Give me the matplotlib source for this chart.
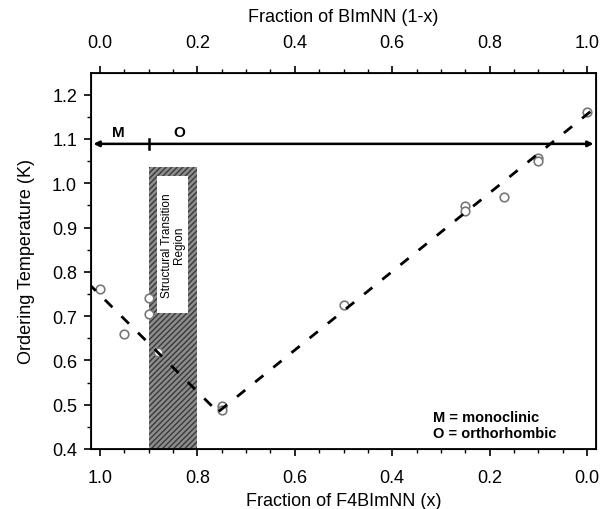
import matplotlib
matplotlib.use("Agg")
import matplotlib.pyplot as plt
from matplotlib.ticker import MultipleLocator
from matplotlib.patches import Rectangle

plt.rcParams['font.family'] = ['Liberation Sans', 'DejaVu Sans']

# Data: F4BImNN fraction x and ordering temperature (K)
x_frac = [1.0, 0.95, 0.90, 0.90, 0.88, 0.75, 0.75, 0.50, 0.25, 0.25, 0.17, 0.10, 0.10, 0.0]
t_order = [0.762, 0.660, 0.740, 0.705, 0.620, 0.497, 0.489, 0.726, 0.948, 0.937, 0.968, 1.057, 1.050, 1.160]

# Guide-line (fit) endpoints
fit1_x = [1.024, 0.762]
fit1_y = [0.774, 0.488]
fit2_x = [0.756, -0.0185]
fit2_y = [0.485, 1.172]

# Structural transition region (in x)
region_x = [0.90, 0.80]
region_top = 1.0375
inner_x = [0.882, 0.819]
inner_y = [0.707, 1.016]

phase_line_y = 1.089
phase_boundary_x = 0.90
xlim = (1.0185, -0.0185)
ylim = (0.4, 1.249)

FS = 13

fig = plt.figure(figsize=(6.04, 5.10), dpi=100)
ax = fig.add_axes([91/604, 1-450/510, (596-91)/604, (450-74)/510])

# hatched region
ax.add_patch(Rectangle((region_x[1], ylim[0]), region_x[0]-region_x[1], region_top-ylim[0],
                       facecolor='#8c8c8c', edgecolor='#3a3a3a', hatch='//////', lw=0, zorder=1))
ax.add_patch(Rectangle((inner_x[1], inner_y[0]), inner_x[0]-inner_x[1], inner_y[1]-inner_y[0],
                       facecolor='white', edgecolor='none', zorder=2))
ax.text((inner_x[0]+inner_x[1])/2, (inner_y[0]+inner_y[1])/2, 'Structural Transition\nRegion',
        rotation=90, ha='center', va='center', fontsize=8.5, zorder=3, linespacing=1.0)

# data points
ax.plot(x_frac, t_order, 'o', ms=6.2, mfc='white', mec='#787878', mew=1.2, zorder=4)

# dashed guide lines
ax.plot(fit1_x, fit1_y, '--', color='black', lw=2.0, dashes=(3.8, 4.6), zorder=5)
ax.plot(fit2_x, fit2_y, '--', color='black', lw=2.0, dashes=(3.8, 4.6), zorder=5)

# phase line with arrows
ax.annotate('', xy=(xlim[0]-0.005, phase_line_y), xytext=(xlim[1]+0.005, phase_line_y),
            arrowprops=dict(arrowstyle='<|-|>', color='black', lw=1.8, mutation_scale=8,
                            shrinkA=0, shrinkB=0), zorder=6)
ax.plot([phase_boundary_x, phase_boundary_x], [phase_line_y-0.012, phase_line_y+0.012],
        color='black', lw=1.8, zorder=6)
ax.text(0.963, 1.116, 'M', fontsize=11, fontweight='bold', ha='center', va='center')
ax.text(0.838, 1.116, 'O', fontsize=11, fontweight='bold', ha='center', va='center')

ax.text(0.316, 0.473, 'M = monoclinic', fontsize=10.5, fontweight='bold', ha='left', va='center')
ax.text(0.316, 0.436, 'O = orthorhombic', fontsize=10.5, fontweight='bold', ha='left', va='center')

ax.set_xlim(*xlim)
ax.set_ylim(*ylim)
ax.xaxis.set_minor_locator(MultipleLocator(0.05))
ax.yaxis.set_major_locator(MultipleLocator(0.1))
ax.yaxis.set_minor_locator(MultipleLocator(0.05))
ax.set_xticks([1.0, 0.8, 0.6, 0.4, 0.2, 0.0])
ax.set_xticklabels(['1.0', '0.8', '0.6', '0.4', '0.2', '0.0'])
ax.tick_params(which='major', direction='out', length=5, width=1.2, labelsize=FS, colors='black')
ax.tick_params(which='minor', direction='out', length=3, width=1.0)
ax.tick_params(axis='x', which='major', pad=9.5)
ax.tick_params(axis='y', which='major', pad=5)
ax.tick_params(axis='y', right=False)
for s in ax.spines.values():
    s.set_linewidth(1.3)

ax.set_xlabel('Fraction of F4BImNN (x)', fontsize=FS, labelpad=4)
ax.set_ylabel('Ordering Temperature (K)', fontsize=FS, labelpad=12)

ax2 = ax.twiny()
ax2.set_xlim(1-xlim[0], 1-xlim[1])
ax2.set_xticks([0.0, 0.2, 0.4, 0.6, 0.8, 1.0])
ax2.set_xticklabels(['0.0', '0.2', '0.4', '0.6', '0.8', '1.0'])
ax2.xaxis.set_minor_locator(MultipleLocator(0.05))
ax2.tick_params(which='major', direction='out', length=5, width=1.2, labelsize=FS, pad=10.5)
ax2.tick_params(which='minor', direction='out', length=3, width=1.0)
ax2.set_xlabel('Fraction of BImNN (1-x)', fontsize=FS, labelpad=10)

fig.savefig('out.png', dpi=100)
